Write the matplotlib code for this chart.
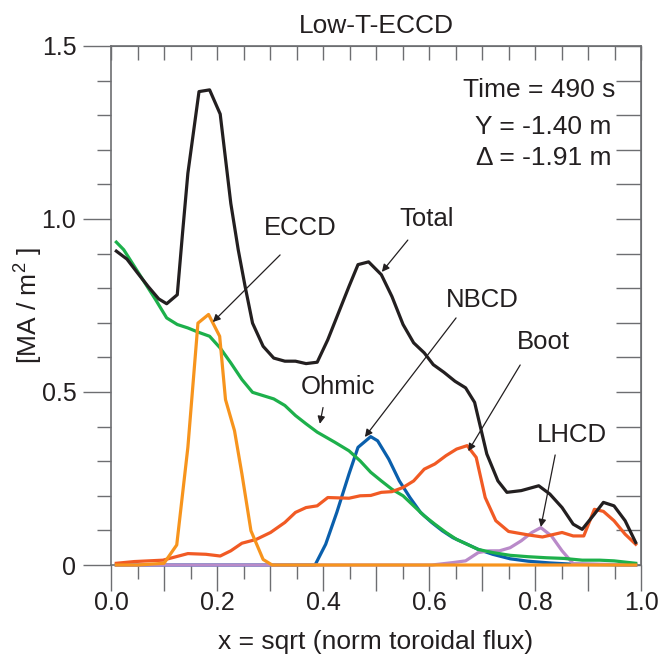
import matplotlib.pyplot as plt
from matplotlib.ticker import MultipleLocator, FuncFormatter

plt.rcParams['font.family'] = ['Liberation Sans', 'DejaVu Sans']
plt.rcParams['mathtext.fontset'] = 'custom'
plt.rcParams['mathtext.rm'] = 'Liberation Sans'
plt.rcParams['mathtext.it'] = 'Liberation Sans'

# current density profiles [MA/m^2] vs sqrt(norm toroidal flux)
x_total = [0.01, 0.03, 0.05, 0.07, 0.09, 0.105, 0.125, 0.135, 0.145, 0.166, 0.186, 0.206,
           0.226, 0.24, 0.253, 0.267, 0.287, 0.307, 0.328, 0.348, 0.368, 0.389, 0.409,
           0.429, 0.449, 0.466, 0.486, 0.51, 0.53, 0.551, 0.571, 0.591, 0.608, 0.628,
           0.649, 0.669, 0.686, 0.709, 0.73, 0.747, 0.774, 0.807, 0.828, 0.851, 0.872,
           0.889, 0.912, 0.929, 0.949, 0.97, 0.99]
total = [0.907, 0.884, 0.844, 0.805, 0.769, 0.755, 0.781, 0.96, 1.132, 1.368, 1.373, 1.303,
         1.045, 0.911, 0.805, 0.699, 0.632, 0.598, 0.589, 0.589, 0.582, 0.586, 0.651,
         0.728, 0.805, 0.868, 0.876, 0.839, 0.776, 0.695, 0.642, 0.613, 0.579, 0.557,
         0.531, 0.512, 0.47, 0.321, 0.243, 0.21, 0.215, 0.229, 0.205, 0.166, 0.118,
         0.103, 0.147, 0.181, 0.171, 0.128, 0.065]

x_ohmic = [0.01, 0.024, 0.044, 0.064, 0.084, 0.105, 0.125, 0.145, 0.166, 0.186, 0.206, 0.226,
           0.247, 0.267, 0.307, 0.328, 0.348, 0.368, 0.389, 0.422, 0.449, 0.47, 0.49, 0.51,
           0.53, 0.551, 0.571, 0.591, 0.611, 0.632, 0.652, 0.693, 0.72, 0.753, 0.787,
           0.821, 0.855, 0.889, 0.922, 0.949, 0.99]
ohmic = [0.933, 0.911, 0.863, 0.815, 0.767, 0.714, 0.695, 0.685, 0.672, 0.661, 0.627, 0.584,
         0.536, 0.499, 0.48, 0.461, 0.432, 0.408, 0.384, 0.355, 0.33, 0.301, 0.268, 0.243,
         0.219, 0.2, 0.171, 0.142, 0.118, 0.094, 0.074, 0.045, 0.036, 0.028, 0.024,
         0.021, 0.019, 0.014, 0.014, 0.012, 0.005]

x_eccd = [0.01, 0.05, 0.1, 0.124, 0.145, 0.164, 0.184, 0.205, 0.216, 0.233, 0.247, 0.264,
          0.287, 0.304, 0.99]
eccd = [0.0, 0.0, 0.005, 0.058, 0.34, 0.699, 0.724, 0.661, 0.478, 0.388, 0.263, 0.099,
        0.016, 0.0, 0.0]

x_nbcd = [0.01, 0.385, 0.405, 0.426, 0.449, 0.466, 0.49, 0.503, 0.524, 0.544, 0.564, 0.584,
          0.605, 0.625, 0.645, 0.672, 0.693, 0.72, 0.753, 0.787, 0.828, 0.875, 0.99]
nbcd = [0.0, 0.0, 0.06, 0.152, 0.263, 0.34, 0.371, 0.359, 0.306, 0.243, 0.195, 0.152,
        0.123, 0.099, 0.079, 0.06, 0.045, 0.031, 0.018, 0.011, 0.006, 0.002, 0.0]

x_boot = [0.01, 0.044, 0.098, 0.145, 0.179, 0.206, 0.226, 0.247, 0.274, 0.301, 0.328, 0.348,
          0.368, 0.389, 0.409, 0.449, 0.47, 0.49, 0.51, 0.53, 0.551, 0.571, 0.591, 0.611,
          0.632, 0.652, 0.672, 0.689, 0.706, 0.726, 0.75, 0.787, 0.814, 0.851, 0.872,
          0.892, 0.912, 0.929, 0.949, 0.97, 0.99]
boot = [0.005, 0.01, 0.014, 0.033, 0.031, 0.026, 0.041, 0.063, 0.074, 0.094, 0.123, 0.152,
        0.166, 0.171, 0.195, 0.193, 0.2, 0.201, 0.21, 0.212, 0.224, 0.243, 0.277, 0.292,
        0.316, 0.335, 0.345, 0.311, 0.195, 0.128, 0.097, 0.087, 0.081, 0.094, 0.084,
        0.084, 0.161, 0.155, 0.128, 0.089, 0.06]

x_lhcd = [0.01, 0.605, 0.645, 0.669, 0.693, 0.713, 0.733, 0.753, 0.774, 0.794, 0.811, 0.831,
          0.851, 0.872, 0.99]
lhcd = [0.0, 0.0, 0.007, 0.012, 0.036, 0.041, 0.041, 0.05, 0.07, 0.094, 0.108, 0.084,
        0.041, 0.004, 0.0]

# label text, text position, arrow tail, arrow head
labels = ['ECCD', 'Total', 'NBCD', 'Boot', 'Ohmic', 'LHCD']
label_xy = [(0.357, 0.975), (0.596, 1.0), (0.70, 0.765), (0.815, 0.645), (0.428, 0.513), (0.87, 0.375)]
arrow_tail = [(0.319, 0.896), (0.560, 0.939), (0.651, 0.714), (0.772, 0.578), (0.40, 0.455), (0.838, 0.318)]
arrow_head = [(0.192, 0.702), (0.511, 0.847), (0.479, 0.370), (0.674, 0.329), (0.394, 0.408), (0.811, 0.110)]

ink = '#231f20'
gray = '#6d6e71'

fig = plt.figure(figsize=(6.66, 6.56), dpi=100)
ax = fig.add_axes([0.1667, 0.1387, 0.7958, 0.7913])

lw = 2.3
ax.plot(x_nbcd, nbcd, color='#0a5fac', lw=lw, clip_on=False, zorder=3)
ax.plot(x_lhcd, lhcd, color='#b98ac9', lw=lw, clip_on=False, zorder=3)
ax.plot(x_ohmic, ohmic, color='#1db04b', lw=lw, clip_on=False, zorder=3)
ax.plot(x_boot, boot, color='#f15a24', lw=lw, clip_on=False, zorder=3)
ax.plot(x_total, total, color=ink, lw=lw, clip_on=False, zorder=3)
ax.plot(x_eccd, eccd, color='#f7941d', lw=lw, clip_on=False, zorder=3)

for lab, (tx, ty), tail, head in zip(labels, label_xy, arrow_tail, arrow_head):
    ax.text(tx, ty, lab, ha='center', va='center', fontsize=18.5, color=ink)
    ax.annotate('', xy=head, xytext=tail,
                arrowprops=dict(arrowstyle='-|>', lw=0.9, color=ink,
                                mutation_scale=11, shrinkA=0, shrinkB=0))

ax.text(0.951, 1.373, 'Time = 490 s', ha='right', va='center', fontsize=19, color=ink)
ax.text(0.945, 1.266, 'Y = -1.40 m', ha='right', va='center', fontsize=19, color=ink)
ax.text(0.945, 1.176, '\u0394 = -1.91 m', ha='right', va='center', fontsize=19, color=ink)

ax.set_xlim(0, 1.0)
ax.set_ylim(0, 1.5)

for s in ax.spines.values():
    s.set_color(gray)
    s.set_linewidth(1.2)

ax.xaxis.set_major_locator(MultipleLocator(0.1))
ax.xaxis.set_minor_locator(MultipleLocator(0.05))
ax.xaxis.set_major_formatter(FuncFormatter(
    lambda v, p: f'{v:.1f}' if round(v * 10) % 2 == 0 else ''))
ax.yaxis.set_major_locator(MultipleLocator(0.5))
ax.yaxis.set_minor_locator(MultipleLocator(0.1))
ax.yaxis.set_major_formatter(FuncFormatter(
    lambda v, p: '0' if v == 0 else f'{v:.1f}'))

ax.tick_params(axis='x', which='major', direction='out', length=19, width=1, color=gray,
               labelsize=18, pad=0, top=False, labelcolor=ink)
ax.tick_params(axis='x', which='minor', direction='out', length=10, width=1, color=gray, top=False)
ax.tick_params(axis='y', which='major', direction='out', length=20, width=1, color=gray,
               labelsize=18, pad=5, right=False, labelcolor=ink)
ax.tick_params(axis='y', which='minor', direction='out', length=10, width=1, color=gray, right=False)

top = ax.secondary_xaxis('top')
top.xaxis.set_major_locator(MultipleLocator(0.05))
top.tick_params(direction='in', length=10, width=1, color=gray, labeltop=False)
top.spines['top'].set_color(gray)

right = ax.secondary_yaxis('right')
right.yaxis.set_major_locator(MultipleLocator(0.1))
right.tick_params(direction='in', length=18, width=1, color=gray, labelright=False)
right.spines['right'].set_color(gray)

ax.set_title('Low-T-ECCD', fontsize=19, color=ink, pad=9)
ax.set_xlabel('x = sqrt (norm toroidal flux)', fontsize=19, color=ink)
ax.set_ylabel('[MA / m$^2$ ]', fontsize=19, color=ink)
ax.xaxis.set_label_coords(0.5, -0.125)
ax.yaxis.set_label_coords(-0.125, 0.5)

fig.savefig('out.png', dpi=100)
